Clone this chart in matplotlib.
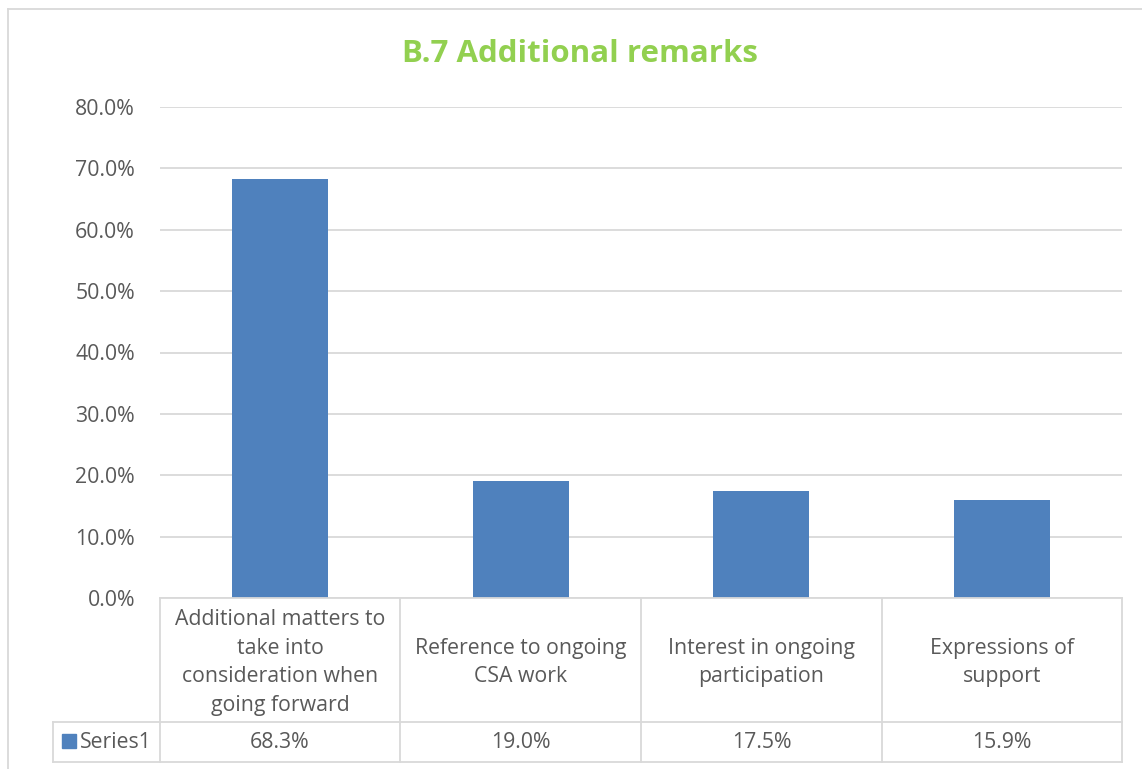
import matplotlib.pyplot as plt
from matplotlib.lines import Line2D
from matplotlib.patches import Rectangle
from matplotlib.ticker import FuncFormatter

# Data
categories = ['Additional matters to\ntake into\nconsideration when\ngoing forward',
              'Reference to ongoing\nCSA work',
              'Interest in ongoing\nparticipation',
              'Expressions of\nsupport']
values = [0.683, 0.190, 0.175, 0.159]
series_name = 'Series1'
title = 'B.7 Additional remarks'

W, H = 1142, 769
BAR = '#4F81BD'
GRID = '#D9D9D9'
TXT = '#595959'
FS = 15.3
plt.rcParams['font.family'] = ['Open Sans', 'DejaVu Sans']


def fx(x):
    return x / W


def fy(y):
    return 1 - y / H


def hline(fig, y, x0, x1):
    fig.add_artist(Line2D([fx(x0), fx(x1)], [fy(y), fy(y)], color=GRID, lw=1.3,
                          transform=fig.transFigure))


def vline(fig, x, y0, y1):
    fig.add_artist(Line2D([fx(x), fx(x)], [fy(y0), fy(y1)], color=GRID, lw=1.3,
                          transform=fig.transFigure))


fig = plt.figure(figsize=(W / 100, H / 100), dpi=100)

# chart border
hline(fig, 8.5, 8, W)
vline(fig, 8, 8.5, H)

# Plot area
left, right, top, bottom = 160, 1122, 107, 598
ax = fig.add_axes([fx(left), fy(bottom), fx(right - left), (bottom - top) / H])
x = range(len(values))
ax.bar(x, values, width=0.4, color=BAR, zorder=3)
ax.set_xlim(-0.5, len(values) - 0.5)
ax.set_ylim(0, 0.8)
ax.set_yticks([i / 10 for i in range(9)])
ax.yaxis.set_major_formatter(FuncFormatter(lambda v, p: f'{v * 100:.1f}%'))
ax.tick_params(axis='y', length=0, pad=18, labelsize=FS, labelcolor=TXT)
ax.set_xticks([])
ax.grid(axis='y', color=GRID, lw=1.3, zorder=0)
for s in ax.spines.values():
    s.set_visible(False)

fig.text(fx(580), fy(54), title, ha='center', va='center', fontsize=22.5,
         fontweight='bold', color='#92D050')

# Data table
cols = [160, 400, 641, 882, 1122]
row_top, row_mid, row_bot = 598, 722, 762
hline(fig, row_top, cols[0], cols[-1])
hline(fig, row_mid, 53, cols[-1])
hline(fig, row_bot, 53, cols[-1])
for c in cols:
    vline(fig, c, row_top, row_bot)
vline(fig, 53, row_mid, row_bot)

for i, (cat, v) in enumerate(zip(categories, values)):
    cx = (cols[i] + cols[i + 1]) / 2
    fig.text(fx(cx), fy((row_top + row_mid) / 2 + 2.5), cat, ha='center', va='center',
             fontsize=FS, color=TXT, linespacing=1.48)
    fig.text(fx(cx), fy((row_mid + row_bot) / 2), f'{v * 100:.1f}%', ha='center',
             va='center', fontsize=FS, color=TXT)

fig.add_artist(Rectangle((fx(62), fy(748)), fx(14), 14 / H, color=BAR,
                         transform=fig.transFigure))
fig.text(fx(80), fy((row_mid + row_bot) / 2), series_name, ha='left', va='center',
         fontsize=FS, color=TXT)

fig.savefig('out.png', dpi=100)
